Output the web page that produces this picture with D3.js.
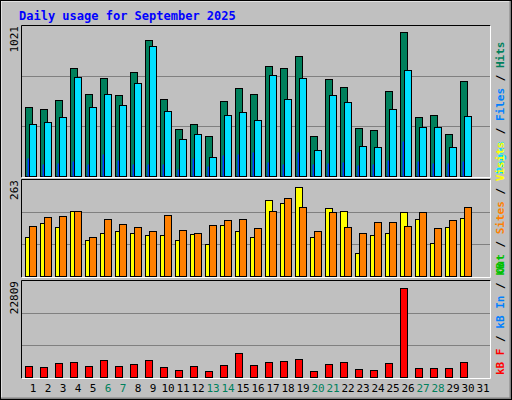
<!DOCTYPE html>
<html>
<head>
<meta charset="UTF-8">
<style>
  body { margin: 0; background: #fff; }
  svg text { font-family: "DejaVu Sans Mono", monospace; }
</style>
</head>
<body>
<svg class="chart" width="512" height="400"></svg>
<script src="https://cdn.jsdelivr.net/npm/d3@7/dist/d3.min.js"></script>
<script>
var days = d3.range(1, 32);
var weekend = [6, 7, 13, 14, 20, 21, 27, 28];
var hits = [481,467,529,747,570,679,563,719,944,536,325,359,277,522,611,570,767,747,835,277,672,617,331,318,590,998,413,427,291,658,0];
var files = [359,372,413,685,481,570,495,645,903,454,257,291,134,427,447,386,699,536,679,182,563,515,209,202,467,733,338,338,202,420,0];
var pages = [127,86,93,107,86,154,113,86,80,86,52,127,66,148,154,168,100,80,168,80,93,100,73,86,113,243,107,93,93,107,0];
var visits = [109,150,139,183,103,122,126,122,117,115,103,120,90,144,128,111,216,207,251,111,191,183,65,117,122,180,161,92,139,164,0];
var sites = [142,166,170,183,111,161,147,139,126,172,131,122,144,158,161,136,185,221,194,128,180,139,122,153,153,142,180,136,158,194,0];
var kbytes = [2640,2400,3360,3600,2640,4080,2640,3120,4080,2400,1680,2640,1440,2880,6000,2880,3600,3840,4320,1440,3120,3600,1920,1680,3360,21840,2160,2160,2160,3600,0];
var maxHits = 1021, maxVisits = 263, maxKB = 22809;

var svg = d3.select(".chart");

// frame
svg.append("rect").attr("width", 512).attr("height", 400).attr("fill", "#c0c0c0");
svg.append("path").attr("d", "M0.5,399.5V0.5H511.5").attr("stroke", "#fff").attr("stroke-width", 2).attr("fill", "none");
svg.append("path").attr("d", "M1,398.5H510.5V1").attr("stroke", "#808080").attr("stroke-width", 2).attr("fill", "none");
svg.append("rect").attr("x", 0.5).attr("y", 0.5).attr("width", 511).attr("height", 399).attr("fill", "none").attr("stroke", "#000");

svg.append("text").attr("x", 19).attr("y", 20).attr("fill", "#0000ff")
  .attr("font-weight", "bold").attr("font-size", 12).text("Daily usage for September 2025");

var x = d3.scaleBand().domain(days).range([25, 490]).paddingInner(0).paddingOuter(0);
x.range([25, 25 + 15 * 31]);

function panel(y0, y1, max, label, labels) {
  svg.append("rect").attr("x", 21).attr("y", y0).attr("width", 469).attr("height", y1 - y0).attr("fill", "#c0c0c0");
  svg.append("path").attr("d", "M21.5," + (y1 + 0.5) + "V" + (y0 + 0.5) + "H490.5").attr("stroke", "#000").attr("fill", "none");
  svg.append("path").attr("d", "M21.5," + (y1 + 0.5) + "H490.5V" + (y0 + 0.5)).attr("stroke", "#fff").attr("fill", "none");
  var y = d3.scaleLinear().domain([0, max]).range([y1 - 1, y0 + 4]);
  var h = y1 - y0;
  [1 / 3, 2 / 3].forEach(function(f) {
    var gy = Math.round(y1 - h * f) + 0.5;
    svg.append("line").attr("x1", 22).attr("x2", 490).attr("y1", gy).attr("y2", gy).attr("stroke", "#808080");
  });
  svg.append("text").attr("transform", "translate(18," + (y0 + 1) + ") rotate(-90)")
    .attr("text-anchor", "end").attr("font-size", 11).attr("font-family", "DejaVu Sans").attr("fill", "#000").text(label);
  var t = svg.append("text").attr("transform", "translate(504," + (y1 - 3) + ") rotate(-90)")
    .attr("font-size", 11).attr("font-weight", "bold");
  labels.forEach(function(l, i) {
    if (i > 0) t.append("tspan").attr("fill", "#000").text(" / ");
    t.append("tspan").attr("fill", l[1]).text(l[0]);
  });
  return y;
}

function bars(y, data, dx, w, color, stroke) {
  svg.append("g").selectAll("rect").data(days.filter(function(d, i) { return data[i] > 0; }))
    .join("rect")
    .attr("x", function(d) { return x(d) + dx + 0.5; })
    .attr("y", function(d) { return Math.round(y(data[d - 1])) + 0.5; })
    .attr("width", w)
    .attr("height", function(d) { return Math.max(0, Math.round(y(0)) - Math.round(y(data[d - 1]))); })
    .attr("fill", color).attr("stroke", stroke ? "#000" : "none");
}

var y1 = panel(25, 177, maxHits, "1021", [["Pages", "#00e0ff"], ["Files", "#0080ff"], ["Hits", "#00805c"]]);
bars(y1, hits, 0, 7, "#00805c", true);
bars(y1, files, 4, 7, "#00e0ff", true);
bars(y1, pages, 2, 1.5, "#0040ff", false);

var y2 = panel(179, 277, maxVisits, "263", [["Out", "#00c000"], ["Sites", "#ff8000"], ["Visits", "#ffff00"]]);
// fix label: Sites / Visits only, "Out" belongs to bottom panel text overflow
bars(y2, visits, 0, 7, "#ffff00", true);
bars(y2, sites, 4, 7, "#ff8000", true);

var y3 = panel(280, 378, maxKB, "22809", [["kB F", "#ff0000"], ["kB In", "#0080ff"], ["kB", "#00c000"]]);
bars(y3, kbytes, 0, 7, "#ff0000", true);

svg.append("g").selectAll("text").data(days).join("text")
  .attr("x", function(d) { return x(d) + 8; })
  .attr("y", 392)
  .attr("text-anchor", "middle")
  .attr("font-family", "DejaVu Sans")
  .attr("font-size", 11)
  .attr("fill", function(d) { return weekend.indexOf(d) >= 0 ? "#00805c" : "#000"; })
  .text(function(d) { return d; });
</script>
</body>
</html>
